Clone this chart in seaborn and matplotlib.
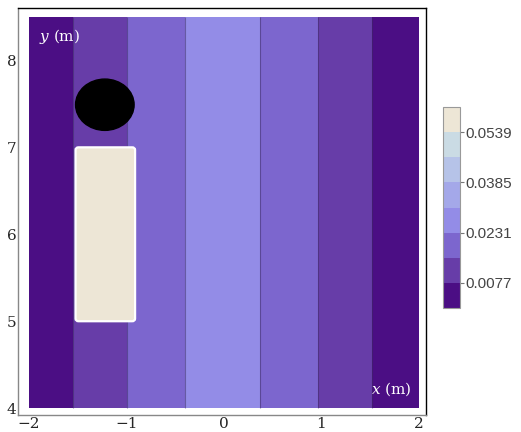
import matplotlib
matplotlib.use("Agg")
import matplotlib.pyplot as plt
import numpy as np
import seaborn as sns
from matplotlib.colors import ListedColormap, BoundaryNorm
from matplotlib.colorbar import ColorbarBase
from matplotlib.patches import Ellipse, FancyBboxPatch
from matplotlib.ticker import MultipleLocator

# field profile along x (the field is constant in y)
x_nodes = [-2.0, -1.55, -0.995, -0.40, -0.015, 0.37, 0.96, 1.52, 2.0]
field_vals = [0.0040, 0.0077, 0.0154, 0.0231, 0.0270, 0.0231, 0.0154, 0.0077, 0.0040]
y_nodes = [4.0, 8.5]

level_step = 0.0077
n_levels = 8
cbar_ticks = [0.0077, 0.0231, 0.0385, 0.0539]
cbar_labels = ["0.0077", "0.0231", "0.0385", "0.0539"]
level_colors = ["#4b0e84", "#673da8", "#7c66ce", "#938ce7",
                "#a4a8e9", "#b6c3e8", "#cadbe4", "#ede6d6"]

# obstacles
circle_center = (-1.22, 7.49)
circle_size = (0.60, 0.59)
box_x = [-1.52, -0.91]
box_y = [5.0, 7.0]

sns.set_style("white")
plt.rcParams['font.family'] = ['DejaVu Serif']
plt.rcParams['mathtext.fontset'] = 'dejavuserif'

fig = plt.figure(figsize=(5.21, 4.32), dpi=100)
ax = fig.add_axes([0.0345, 0.039, 0.783, 0.942])

levels = np.arange(n_levels + 1) * level_step
X, Y = np.meshgrid(x_nodes, y_nodes)
Z = np.tile(field_vals, (len(y_nodes), 1))
ax.contourf(X, Y, Z, levels=levels, colors=level_colors)
ax.contour(X, Y, Z, levels=levels[1:-1], colors="#3a2a60", linewidths=0.8, alpha=0.5)

ax.add_patch(Ellipse(circle_center, circle_size[0], circle_size[1], color="black", zorder=3))
ax.add_patch(FancyBboxPatch((box_x[0], box_y[0]), box_x[1] - box_x[0], box_y[1] - box_y[0],
                            boxstyle="round,pad=0,rounding_size=0.03",
                            facecolor=level_colors[-1], edgecolor="white", linewidth=1.6, zorder=3))

ax.text(-1.89, 8.28, "$y$ (m)", color="white", fontsize=11, va="center", ha="left")
ax.text(1.51, 4.22, "$x$ (m)", color="white", fontsize=11, va="center", ha="left")

ax.set_xlim(-2.11, 2.07)
ax.set_ylim(3.92, 8.6)
ax.xaxis.set_minor_locator(MultipleLocator(0.2))
ax.yaxis.set_minor_locator(MultipleLocator(0.2))
ax.set_xticks([-2, -1, 0, 1, 2])
ax.set_xticklabels(["\u22122", "\u22121", "0", "1", "2"])
ax.set_yticks([4, 5, 6, 7, 8])
ax.tick_params(which="major", direction="in", length=4, width=0.8, color="#888888",
               labelsize=11, pad=1, top=False, right=False)
ax.tick_params(which="minor", direction="in", length=2, width=0.6, color="#aaaaaa",
               top=False, right=False)
for side in ["left", "bottom"]:
    ax.spines[side].set_color("#888888")
for side in ["top", "right"]:
    ax.spines[side].set_color("black")
for s in ax.spines.values():
    s.set_linewidth(1.0)

# colorbar labels are sans in the reference
plt.rcParams['font.family'] = ['Liberation Sans', 'DejaVu Sans']
cax = fig.add_axes([0.850, 0.287, 0.033, 0.465])
cb = ColorbarBase(cax, cmap=ListedColormap(level_colors),
                  norm=BoundaryNorm(levels, n_levels), boundaries=levels)
cb.minorticks_off()
cb.set_ticks(cbar_ticks, labels=cbar_labels)
cb.outline.set_edgecolor("#999999")
cb.outline.set_linewidth(0.8)
cax.tick_params(length=3, width=0.8, color="#777777", labelsize=11, labelcolor="#444444", pad=1)

fig.savefig("out.png", dpi=100)
